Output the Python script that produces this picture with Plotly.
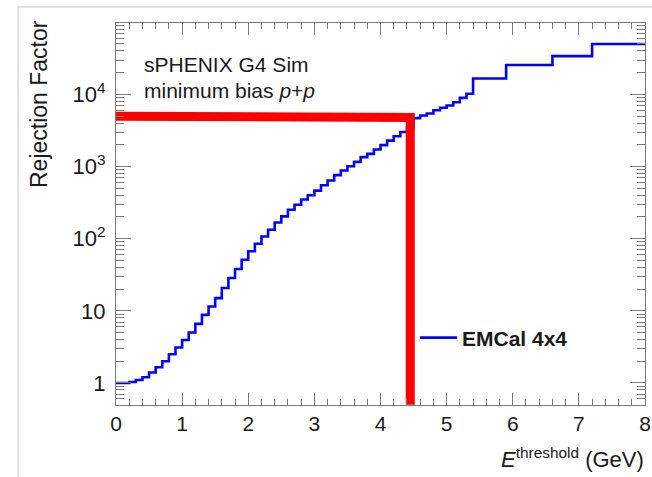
import numpy as np
import plotly.graph_objects as go

# ---- data ----
# lower bin edges (GeV) of the EMCal 4x4 rejection-factor histogram, plus final upper edge
bin_edges = [round(0.1 * i, 1) for i in range(54)] + [5.4, 5.9, 6.6, 7.2, 8.0]
rejection = [
    1.0, 1.0, 1.03, 1.1, 1.2, 1.4, 1.65, 2.0, 2.5, 3.1,
    3.95, 5.0, 6.6, 8.8, 11.5, 15.0, 20.7, 28.5, 38.0, 51.0,
    67.0, 85.0, 107.0, 133.0, 168.0, 204.0, 252.0, 295.0, 350.0, 400.0,
    464.0, 550.0, 640.0, 760.0, 880.0, 1010.0, 1160.0, 1350.0, 1500.0, 1720.0,
    1980.0, 2290.0, 2630.0, 3020.0, 3510.0, 4690.0, 5100.0, 5450.0, 6030.0, 6530.0,
    7030.0, 7800.0, 8950.0, 10200.0,
    16600.0, 25600.0, 34000.0, 50000.0,
]
series_name = "EMCal 4x4"

# red threshold marker (operating point)
threshold_x = [0.0, 4.45, 4.45]
threshold_rf = [5000.0, 4800.0, 0.5]

x_tick_vals = [0, 1, 2, 3, 4, 5, 6, 7, 8]
y_tick_vals = [1, 10, 100, 1000, 10000]
y_tick_text = ["1", "10", "10<sup>2</sup>", "10<sup>3</sup>", "10<sup>4</sup>"]

# step histogram: repeat last value at final edge
step_x = bin_edges
step_y = rejection + [rejection[-1]]

FONT = "Liberation Sans, Arial, sans-serif"
TXT = "#1a1a1a"
AX = "#7a7a7a"

fig = go.Figure()
fig.add_trace(go.Scatter(
    x=step_x, y=step_y, mode="lines", line=dict(color="#0000ff", width=2.6, shape="hv"),
    name=series_name, showlegend=True,
))
fig.add_trace(go.Scatter(
    x=threshold_x, y=threshold_rf, mode="lines", line=dict(color="#ff0000", width=9),
    showlegend=False, hoverinfo="skip",
))

# plot area in pixels
L, R, T, B = 116, 645, 23, 405
W, H = 652, 477
def px(xp):
    return (xp - L) / (R - L)
def py(yp):
    return (B - yp) / (B - T)

minor_y = [k * 10 ** d for d in range(-1, 5) for k in range(2, 10)]

fig.update_layout(
    width=W, height=H,
    margin=dict(l=L, r=W - R, t=T, b=H - B, pad=0, autoexpand=False),
    paper_bgcolor="white", plot_bgcolor="white",
    font=dict(family=FONT, color=TXT),
    showlegend=True,
    legend=dict(x=px(415), y=py(338), xanchor="left", yanchor="middle",
                font=dict(family=FONT, size=21, color=TXT, weight="bold"),
                bgcolor="rgba(0,0,0,0)", borderwidth=0, itemwidth=37),
    xaxis=dict(
        range=[0, 8], tickvals=x_tick_vals, ticks="inside", ticklen=12, tickwidth=1,
        tickcolor=AX, showline=True, linecolor=AX, linewidth=1, mirror="ticks",
        showgrid=False, zeroline=False, automargin=False,
        tickfont=dict(family=FONT, size=21, color=TXT),
        minor=dict(dtick=0.2, ticks="inside", ticklen=6, tickcolor=AX, showgrid=False),
    ),
    yaxis=dict(
        type="log", range=[np.log10(0.495), 4.99], tickvals=y_tick_vals, ticktext=y_tick_text,
        ticks="inside", ticklen=15, tickwidth=1, tickcolor=AX, showline=True, linecolor=AX,
        linewidth=1, mirror="ticks", showgrid=False, zeroline=False, automargin=False,
        tickfont=dict(family=FONT, size=22, color=TXT), ticklabelstandoff=5,
        minor=dict(tickvals=minor_y, ticks="inside", ticklen=8, tickcolor=AX, showgrid=False),
    ),
)

fig.add_annotation(text="sPHENIX G4 Sim", x=px(142), y=py(65), xref="paper", yref="paper",
                   xanchor="left", yanchor="middle", showarrow=False,
                   font=dict(family=FONT, size=21, color=TXT))
fig.add_annotation(text="minimum bias <i>p</i>+<i>p</i>", x=px(142), y=py(90), xref="paper", yref="paper",
                   xanchor="left", yanchor="middle", showarrow=False,
                   font=dict(family=FONT, size=21, color=TXT))
fig.add_annotation(text="Rejection Factor", textangle=-90, x=px(39), y=py(104), xref="paper", yref="paper",
                   xanchor="center", yanchor="middle", showarrow=False,
                   font=dict(family=FONT, size=23, color=TXT))
fig.add_annotation(text="<i>E</i><sup>threshold</sup> (GeV)", x=px(646), y=py(458), xref="paper", yref="paper",
                   xanchor="right", yanchor="middle", showarrow=False,
                   font=dict(family=FONT, size=22, color=TXT))

# outer slide frame (light gray)
fig.add_shape(type="line", xref="paper", yref="paper", x0=px(18), x1=px(18), y0=py(7), y1=py(480),
              line=dict(color="#c8c8c8", width=1))
fig.add_shape(type="line", xref="paper", yref="paper", x0=px(18), x1=px(660), y0=py(7), y1=py(7),
              line=dict(color="#c8c8c8", width=1))

fig.write_html("out.html")
